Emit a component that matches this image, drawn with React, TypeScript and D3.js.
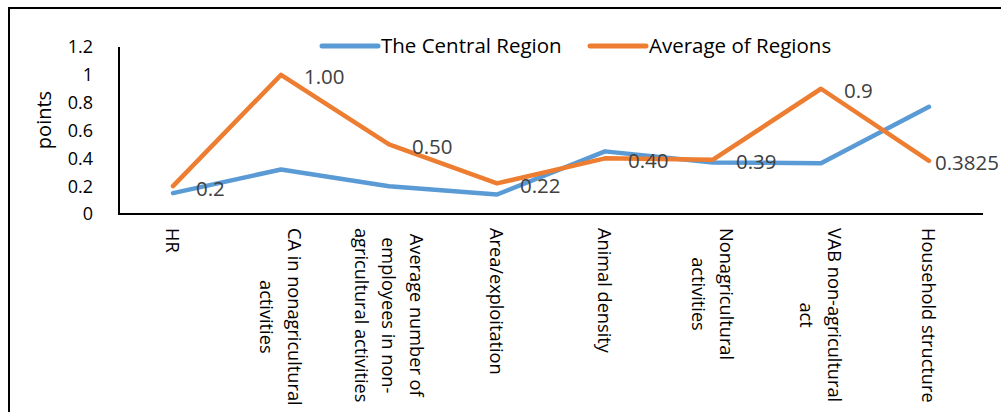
import React, { useEffect, useRef } from "react";
import * as d3 from "d3";

const categories: string[][] = [
  ["HR"],
  ["CA in nonagricultural", "activities"],
  ["Average number of", "employees in non-", "agricultural activities"],
  ["Area/exploitation"],
  ["Animal density"],
  ["Nonagricultural", "activities"],
  ["VAB non-agricultural", "act"],
  ["Household structure"],
];
const centralRegion: number[] = [0.15, 0.32, 0.2, 0.14, 0.45, 0.37, 0.365, 0.77];
const averageRegions: number[] = [0.2, 1.0, 0.5, 0.22, 0.4, 0.39, 0.9, 0.3825];
const averageLabels: string[] = ["0.2", "1.00", "0.50", "0.22", "0.40", "0.39", "0.9", "0.3825"];
const yTicks: number[] = [0, 0.2, 0.4, 0.6, 0.8, 1, 1.2];
const seriesNames: string[] = ["The Central Region", "Average of Regions"];

const W = 1001;
const H = 412;
const FONT = "'Open Sans', sans-serif";
const BLUE = "#5B9BD5";
const ORANGE = "#ED7D31";

export default function App() {
  const ref = useRef<SVGSVGElement>(null);

  useEffect(() => {
    const svg = d3.select(ref.current);
    svg.selectAll("*").remove();

    const left = 119, right = 983, top = 47, bottom = 214;
    const x = d3.scaleBand<number>().domain(d3.range(categories.length)).range([left, right]);
    const y = d3.scaleLinear().domain([0, 1.2]).range([bottom, top]);
    const cx = (i: number) => (x(i) as number) + x.bandwidth() / 2;

    // frame
    svg.append("rect").attr("x", 9).attr("y", 8).attr("width", 1100).attr("height", 600)
      .attr("fill", "white").attr("stroke", "#000").attr("stroke-width", 2);

    // axes
    svg.append("line").attr("x1", left).attr("x2", left).attr("y1", top).attr("y2", bottom)
      .attr("stroke", "#000").attr("stroke-width", 2);
    svg.append("line").attr("x1", left - 1).attr("x2", right).attr("y1", bottom).attr("y2", bottom)
      .attr("stroke", "#000").attr("stroke-width", 2);

    // y tick labels
    svg.append("g").selectAll("text").data(yTicks).join("text")
      .attr("x", 93).attr("y", (d) => y(d))
      .attr("dy", "0.36em")
      .attr("text-anchor", "end")
      .attr("font-family", FONT).attr("font-size", 18).attr("fill", "#000")
      .text((d) => d3.format("")(d));

    // y axis title
    svg.append("text")
      .attr("transform", `translate(44,120) rotate(-90)`)
      .attr("text-anchor", "middle").attr("dy", "0.36em")
      .attr("font-family", FONT).attr("font-size", 20).attr("fill", "#000")
      .text("points");

    // category labels
    const lh = 27.5;
    categories.forEach((lines, i) => {
      const g = svg.append("g");
      const texts = lines.map((ln) =>
        g.append("text")
          .attr("font-family", FONT).attr("font-size", 18.2).attr("fill", "#000")
          .attr("dominant-baseline", "central")
          .attr("text-anchor", "middle")
          .text(ln)
      );
      const maxLen = d3.max(texts, (t) => (t.node() as SVGTextElement).getComputedTextLength()) || 0;
      const n = lines.length;
      texts.forEach((t, j) => {
        t.attr("x", maxLen / 2).attr("y", -((n - 1) / 2) * lh + j * lh);
      });
      g.attr("transform", `translate(${cx(i)},228) rotate(90)`);
    });

    // lines
    const line = d3.line<number>().x((_, i) => cx(i)).y((d) => y(d));
    svg.append("path").attr("d", line(centralRegion) as string)
      .attr("fill", "none").attr("stroke", BLUE).attr("stroke-width", 4.5)
      .attr("stroke-linejoin", "round").attr("stroke-linecap", "round");
    svg.append("path").attr("d", line(averageRegions) as string)
      .attr("fill", "none").attr("stroke", ORANGE).attr("stroke-width", 4.5)
      .attr("stroke-linejoin", "round").attr("stroke-linecap", "round");

    // data labels
    averageRegions.forEach((v, i) => {
      const t = svg.append("text")
        .attr("font-family", FONT).attr("font-size", 20.5).attr("fill", "#404040")
        .attr("dy", "0.36em")
        .attr("y", y(v) + 2)
        .text(averageLabels[i]);
      const w = (t.node() as SVGTextElement).getComputedTextLength();
      t.attr("x", Math.min(cx(i) + 23, W - 2 - w));
    });

    // legend
    const legendItems = [
      { name: seriesNames[0], color: BLUE, x0: 322 },
      { name: seriesNames[1], color: ORANGE, x0: 590 },
    ];
    legendItems.forEach((it) => {
      svg.append("line").attr("x1", it.x0).attr("x2", it.x0 + 56).attr("y1", 46).attr("y2", 46)
        .attr("stroke", it.color).attr("stroke-width", 5).attr("stroke-linecap", "round");
      svg.append("text").attr("x", it.x0 + 59).attr("y", 46).attr("dy", "0.36em")
        .attr("font-family", FONT).attr("font-size", 20.5).attr("fill", "#000")
        .text(it.name);
    });
  }, []);

  return (
    <svg
      ref={ref}
      width={W}
      height={H}
      style={{ position: "absolute", left: 0, top: 0, background: "white" }}
    />
  );
}
